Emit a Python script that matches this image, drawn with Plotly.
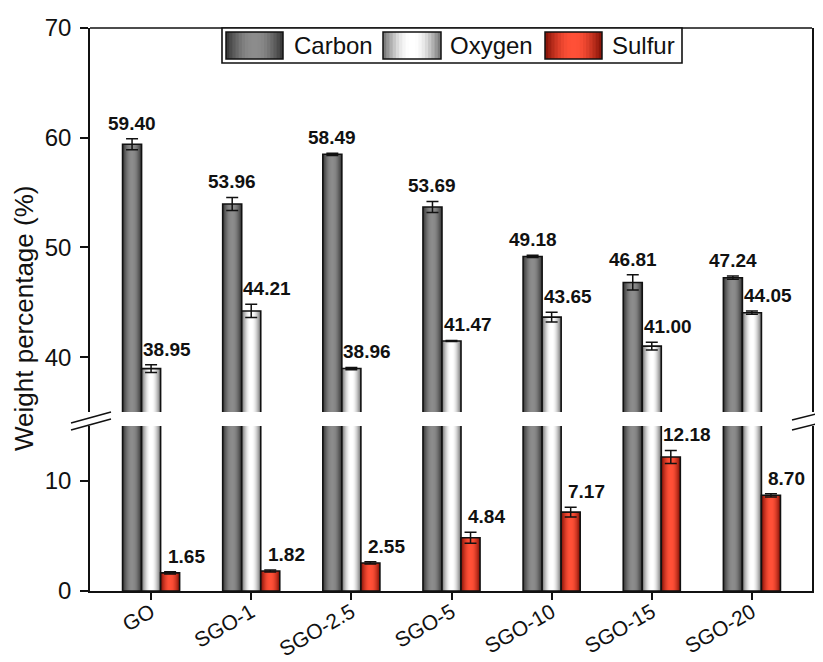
import plotly.graph_objects as go
import math

# ---------------- data ----------------
categories = ["GO", "SGO-1", "SGO-2.5", "SGO-5", "SGO-10", "SGO-15", "SGO-20"]
carbon = [59.40, 53.96, 58.49, 53.69, 49.18, 46.81, 47.24]
carbon_err = [0.5, 0.6, 0.1, 0.5, 0.1, 0.7, 0.15]
oxygen = [38.95, 44.21, 38.96, 41.47, 43.65, 41.00, 44.05]
oxygen_err = [0.35, 0.6, 0.1, 0.05, 0.45, 0.35, 0.15]
sulfur = [1.65, 1.82, 2.55, 4.84, 7.17, 12.18, 8.70]
sulfur_err = [0.1, 0.1, 0.1, 0.5, 0.45, 0.6, 0.15]
series_names = ["Carbon", "Oxygen", "Sulfur"]
lower_ticks = [0, 10]
upper_ticks = [40, 50, 60, 70]

# ---------------- styles ----------------
OFF = 8  # page body margin
W, H = 815, 654
ML, MR, MT, MB = 82, 11, 20, 71
PW, PH = W - ML - MR, H - MT - MB
FONT = "Arial, Liberation Sans, Helvetica, sans-serif"
INK = "#111111"
BAR_W = 0.19
offsets = [-0.19, 0.0, 0.19]
edge_cols = [(60, 60, 60), (125, 125, 125), (140, 22, 10)]
center_cols = [(140, 140, 140), (255, 255, 255), (255, 80, 55)]
NL = 9


def px_x(p):
    return (p - OFF - ML) / PW


def px_y(p):
    return (OFF + H - MB - p) / PH


def mix(a, b, t):
    return "rgb(%d,%d,%d)" % tuple(round(a[i] + (b[i] - a[i]) * t) for i in range(3))


fig = go.Figure()

lower_dom = [0, px_y(426)]
upper_dom = [px_y(412), 1]

data = [carbon, oxygen, sulfur]
errs = [carbon_err, oxygen_err, sulfur_err]

for s in range(3):
    axes = ["y", "y2"] if s < 2 else ["y"]
    for ax in axes:
        for k in range(NL):
            w = BAR_W * (1 - k / NL)
            t = math.sin((k / (NL - 1)) * math.pi / 2)
            fig.add_trace(go.Bar(
                x=categories, y=data[s], yaxis=ax, xaxis="x",
                width=[w] * len(categories),
                offset=[offsets[s] - w / 2] * len(categories),
                marker=dict(color=mix(edge_cols[s], center_cols[s], t), line=dict(width=0)),
                showlegend=False, hoverinfo="skip"))
        show_err = (ax == "y2") if s < 2 else (ax == "y")
        fig.add_trace(go.Bar(
            x=categories, y=data[s], yaxis=ax, xaxis="x",
            width=[BAR_W] * len(categories),
            offset=[offsets[s] - BAR_W / 2] * len(categories),
            marker=dict(color="rgba(0,0,0,0)", line=dict(color=INK, width=1.6)),
            error_y=dict(type="data", array=errs[s], visible=show_err,
                         color=INK, thickness=1.5, width=6),
            name=series_names[s], showlegend=False))

annotations = []
label_shift = [0, 16, 16]
for s in range(3):
    ax = "y2" if s < 2 else "y"
    for i, c in enumerate(categories):
        annotations.append(dict(
            x=c, y=data[s][i] + errs[s][i], xref="x", yref=ax,
            text="<b>%.2f</b>" % data[s][i], showarrow=False,
            xanchor="center", yanchor="bottom",
            xshift=offsets[s] * PW / 7.21 + label_shift[s], yshift=3,
            font=dict(family=FONT, size=19, color=INK)))

# axis title
annotations.append(dict(
    x=px_x(24), y=px_y(319), xref="paper", yref="paper",
    xanchor="center", yanchor="middle",
    text="Weight percentage (%)", textangle=-90, showarrow=False,
    font=dict(family=FONT, size=26, color=INK)))

shapes = []
shapes.append(dict(type="line", xref="paper", yref="paper", x0=0, x1=1, y0=1, y1=1,
                   line=dict(color=INK, width=1.6)))
for (x0, y0, x1, y1) in [(71, 423, 111, 412), (71, 430, 111, 419),
                         (792, 420, 832, 410), (792, 430, 832, 420)]:
    shapes.append(dict(type="line", xref="paper", yref="paper",
                       x0=px_x(x0), y0=px_y(y0), x1=px_x(x1), y1=px_y(y1),
                       line=dict(color=INK, width=1.5)))

# custom legend
shapes.append(dict(type="rect", xref="paper", yref="paper",
                   x0=px_x(222), x1=px_x(682), y0=px_y(63), y1=px_y(28),
                   fillcolor="white", line=dict(color=INK, width=1.6), layer="above"))
sw = [(226, 283, 292), (383, 441, 448), (545, 602, 610)]
for s, (a, b, tx) in enumerate(sw):
    full = b - a
    cx = (a + b) / 2
    for k in range(NL):
        w = full * (1 - k / NL)
        t = math.sin((k / (NL - 1)) * math.pi / 2)
        shapes.append(dict(type="rect", xref="paper", yref="paper",
                           x0=px_x(cx - w / 2), x1=px_x(cx + w / 2),
                           y0=px_y(59), y1=px_y(32),
                           fillcolor=mix(edge_cols[s], center_cols[s], t),
                           line=dict(width=0), layer="above"))
    shapes.append(dict(type="rect", xref="paper", yref="paper",
                       x0=px_x(a), x1=px_x(b), y0=px_y(59), y1=px_y(32),
                       fillcolor="rgba(0,0,0,0)", line=dict(color=INK, width=1.5),
                       layer="above"))
    annotations.append(dict(x=px_x(tx), y=px_y(45.5), xref="paper", yref="paper",
                            text=series_names[s], showarrow=False,
                            xanchor="left", yanchor="middle",
                            font=dict(family=FONT, size=24, color=INK)))

axis_common = dict(showline=True, linecolor=INK, linewidth=1.6, ticks="outside",
                   tickcolor=INK, tickwidth=1.5, showgrid=False, zeroline=False,
                   tickfont=dict(family=FONT, size=24, color=INK), mirror=True,
                   automargin=False, ticklabelstandoff=4)

fig.update_layout(
    width=W, height=H,
    margin=dict(l=ML, r=MR, t=MT, b=MB, autoexpand=False),
    paper_bgcolor="white", plot_bgcolor="white",
    barmode="overlay", showlegend=False,
    xaxis=dict(type="category", categoryorder="array", categoryarray=categories,
               range=[-0.61, 6.6], anchor="y", showline=True, linecolor=INK,
               linewidth=1.6, ticks="outside", ticklen=7, tickcolor=INK, tickwidth=1.5,
               tickangle=-30, showgrid=False, automargin=False,
               ticklabelstandoff=-8,
               tickfont=dict(family=FONT, size=21, color=INK)),
    yaxis=dict(domain=lower_dom, range=[0, 15], tickvals=lower_ticks, ticklen=8,
               anchor="x", **axis_common),
    yaxis2=dict(domain=upper_dom, range=[35, 70], tickvals=upper_ticks, ticklen=8,
                anchor="x", **axis_common),
    annotations=annotations, shapes=shapes,
)

fig.write_html("out.html")
